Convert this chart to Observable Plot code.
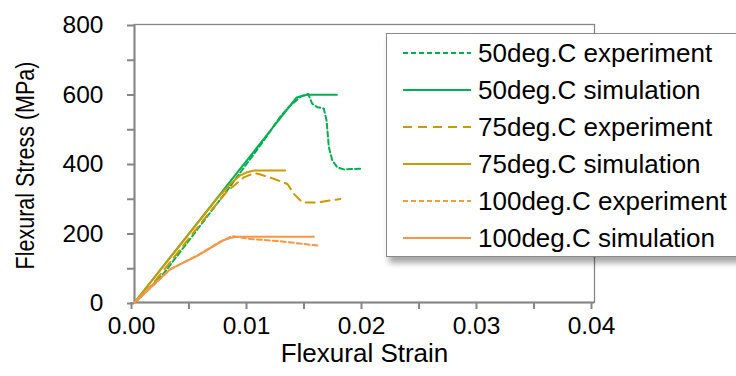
<!DOCTYPE html>
<html>
<head>
<meta charset="utf-8">
<script src="https://cdn.jsdelivr.net/npm/d3@7"></script>
<script src="https://cdn.jsdelivr.net/npm/@observablehq/plot@0.6"></script>
<style>
  html, body { margin: 0; padding: 0; background: #fff; overflow: hidden; }
  #wrap { position: relative; width: 736px; height: 376px; overflow: hidden; font-family: "Liberation Sans", Arial, sans-serif; }
  #legend { position: absolute; left: 386px; top: 33px; width: 400px; height: 222px; background: #fff;
            border: 1.5px solid #8a8a8a; box-shadow: 3px 6px 6px rgba(0,0,0,0.35); }
  .row { position: absolute; left: 0; height: 26px; }
  .row svg { position: absolute; left: 15px; top: 8px; }
  .row span { position: absolute; left: 91px; top: 0; font-size: 26px; line-height: 26px; color: #000; white-space: nowrap; }
</style>
</head>
<body>
<div id="wrap"></div>
<script>
// ---- data ----
const exp50X = [0, 0.0005, 0.0025, 0.005, 0.008, 0.011, 0.0127, 0.0135, 0.0145, 0.0151, 0.01545, 0.0159, 0.01646, 0.0167, 0.0169, 0.0172, 0.01763, 0.0182, 0.0197];
const exp50Y = [0, 14, 82, 190, 320, 455, 536, 565, 594, 600, 572, 562, 558, 524, 447, 409, 389, 383, 385];
const sim50X = [0, 0.0141, 0.0150, 0.0176];
const sim50Y = [0, 590, 598, 598];

const exp75X = [0, 0.001, 0.003, 0.0063, 0.008, 0.0095, 0.0104, 0.0108, 0.0121, 0.0133, 0.01385, 0.0146, 0.0159, 0.0179];
const exp75Y = [0, 30, 112, 250, 318, 360, 372, 370, 356, 341, 313, 288, 288, 298];
const sim75X = [0, 0.0072, 0.0083, 0.0092, 0.0098, 0.0104, 0.0131];
const sim75Y = [0, 300, 340, 366, 375, 380, 380];

const exp100X = [0, 0.0015, 0.0031, 0.0055, 0.0075, 0.0085, 0.0101, 0.0127, 0.0159];
const exp100Y = [0, 45, 95, 136, 176, 191, 183, 176, 164];
const sim100X = [0, 0.0031, 0.0055, 0.0078, 0.0084, 0.0089, 0.0156];
const sim100Y = [0, 96, 135, 180, 186, 189, 189];

const seriesNames = ["50deg.C experiment", "50deg.C simulation", "75deg.C experiment", "75deg.C simulation", "100deg.C experiment", "100deg.C simulation"];
const seriesColors = ["#00B050", "#00B050", "#CC9900", "#CC9900", "#F79646", "#F79646"];
const seriesDash = ["5,3", null, "9,6", null, "5,3", null];
const seriesXs = [exp50X, sim50X, exp75X, sim75X, exp100X, sim100X];
const seriesYs = [exp50Y, sim50Y, exp75Y, sim75Y, exp100Y, sim100Y];

const xMajorTicks = [0, 0.01, 0.02, 0.03, 0.04];
const xAllTicks = [0, 0.005, 0.01, 0.015, 0.02, 0.025, 0.03, 0.035, 0.04];
const yMajorTicks = [0, 200, 400, 600, 800];
const yAllTicks = [0, 100, 200, 300, 400, 500, 600, 700, 800];
const xTitle = "Flexural Strain";
const yTitle = "Flexural Stress (MPa)";

// ---- build ----
const gray = "#868686";
const lineMarks = seriesNames.map((name, i) => {
  const rows = seriesXs[i].map((x, j) => ({x, y: seriesYs[i][j]}));
  return Plot.line(rows, {x: "x", y: "y", stroke: seriesColors[i], strokeWidth: 2,
    strokeDasharray: seriesDash[i] || undefined});
});

const chart = Plot.plot({
  width: 736, height: 376,
  marginLeft: 134, marginRight: 142, marginTop: 24, marginBottom: 74,
  style: {fontFamily: "'Liberation Sans', Arial, sans-serif", fontSize: "24px", color: "#000", background: "#fff"},
  x: {domain: [0, 0.04]},
  y: {domain: [0, 800]},
  marks: [
    Plot.frame({stroke: gray, strokeWidth: 1.3}),
    Plot.axisX({ticks: xAllTicks, tickSize: 7, tickPadding: 7, stroke: gray, strokeWidth: 2, dx: -3,
      tickFormat: d => xMajorTicks.includes(d) ? d.toFixed(2) : "", label: null, fill: "#000", fontSize: 24.5}),
    Plot.axisY({ticks: yAllTicks, tickSize: 7, tickPadding: 24, stroke: gray, strokeWidth: 2, dy: 1,
      tickFormat: d => yMajorTicks.includes(d) ? String(d) : "", label: null, fill: "#000", fontSize: 24.5}),
    Plot.text([yTitle], {frameAnchor: "left", rotate: -90, textAnchor: "middle", lineAnchor: "top", dx: -119, dy: 2, text: d => d, fontSize: 21.5, fill: "#000"}),
    Plot.ruleX([0], {stroke: gray, strokeWidth: 2}),
    Plot.ruleY([0], {stroke: gray, strokeWidth: 2}),
    ...lineMarks,
    Plot.text([xTitle], {frameAnchor: "bottom", lineAnchor: "top", dy: 41, text: d => d, fontSize: 26, fill: "#000"})
  ]
});

// the reference's vertical title has wider glyphs than its length implies
d3.select(chart).selectAll("text")
  .filter(function () { return this.textContent === yTitle; })
  .each(function () {
    const t = this.getAttribute("transform") || "";
    this.setAttribute("transform", (t + " scale(1,1.18)").trim());
  });

const wrap = document.getElementById("wrap");
wrap.appendChild(chart);

// legend
const legend = document.createElement("div");
legend.id = "legend";
seriesNames.forEach((name, i) => {
  const row = document.createElement("div");
  row.className = "row";
  const center = 18.7 + 37.1 * i;
  row.style.top = (center - 13) + "px";
  row.style.width = "390px";
  const svgNS = "http://www.w3.org/2000/svg";
  const svg = document.createElementNS(svgNS, "svg");
  svg.setAttribute("width", "70"); svg.setAttribute("height", "10");
  const ln = document.createElementNS(svgNS, "line");
  ln.setAttribute("x1", "1"); ln.setAttribute("x2", "69"); ln.setAttribute("y1", "5"); ln.setAttribute("y2", "5");
  ln.setAttribute("stroke", seriesColors[i]); ln.setAttribute("stroke-width", "2");
  if (seriesDash[i]) ln.setAttribute("stroke-dasharray", seriesDash[i]);
  svg.appendChild(ln);
  const sp = document.createElement("span");
  sp.textContent = name;
  row.appendChild(svg); row.appendChild(sp);
  legend.appendChild(row);
});
wrap.appendChild(legend);
</script>
</body>
</html>
